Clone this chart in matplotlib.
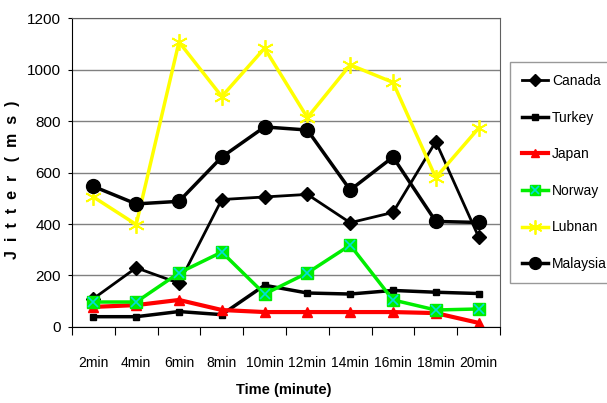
import numpy as np
import matplotlib
matplotlib.use('Agg')
import matplotlib.pyplot as plt

plt.rcParams['font.family'] = ['Liberation Sans', 'DejaVu Sans']

times = ["2min", "4min", "6min", "8min", "10min", "12min", "14min", "16min", "18min", "20min"]
canada = [110, 230, 170, 495, 505, 515, 405, 445, 720, 350]
turkey = [40, 40, 60, 48, 162, 132, 128, 142, 135, 130]
japan = [78, 85, 105, 66, 58, 58, 58, 58, 54, 16]
norway = [97, 97, 210, 291, 128, 210, 318, 105, 66, 70]
lubnan = [505, 398, 1107, 895, 1083, 813, 1018, 950, 580, 772]
malaysia = [546, 478, 488, 660, 777, 765, 532, 660, 410, 406]

fig = plt.figure(figsize=(6.07, 4.03), dpi=100)
ax = fig.add_axes([0.1186, 0.1886, 0.7051, 0.7667])
x = np.arange(len(times))

ax.yaxis.grid(True, color='#808080', linewidth=1)
ax.set_axisbelow(True)

h_can, = ax.plot(x, canada, color='black', lw=2, marker='D', ms=7, label='Canada')
h_tur, = ax.plot(x, turkey, color='black', lw=2.5, marker='s', ms=5, label='Turkey')
h_jap, = ax.plot(x, japan, color='red', lw=3, marker='^', ms=7, label='Japan')
h_nor, = ax.plot(x, norway, color='#00ee00', lw=2.5, marker='s', ms=9, label='Norway')
h_norx, = ax.plot(x, norway, ls='none', marker='x', color='#00dddd', ms=7, mew=1.2)
h_lub, = ax.plot(x, lubnan, color='#ffff00', lw=2.5, marker=(6, 2, 0), ms=12, mew=1.3, label='Lubnan')
h_mal, = ax.plot(x, malaysia, color='black', lw=2.5, marker='o', ms=10, label='Malaysia')

ax.set_xlim(-0.5, len(times) - 0.5)
ax.set_ylim(0, 1200)
ax.set_yticks(range(0, 1201, 200))
ax.set_xticks(np.arange(-0.5, len(times)), labels=[])
ax.set_xticks(x, labels=times, minor=True)
ax.tick_params(axis='x', which='major', length=6, direction='out', color='black')
ax.tick_params(axis='x', which='minor', length=0, pad=21, labelsize=10)
ax.tick_params(axis='y', length=3, labelsize=11, pad=5)

for s in ['top', 'right']:
    ax.spines[s].set_color('#606060')
for s in ['left', 'bottom']:
    ax.spines[s].set_color('black')

ax.set_xlabel('Time (minute)', fontsize=10.5, fontweight='bold')
ax.xaxis.set_label_coords(0.495, -0.18)
ax.set_ylabel('J  i  t  t  e  r   (  m  s  )', fontsize=11.5, fontweight='bold')
ax.yaxis.set_label_coords(-0.122, 0.476)

leg = fig.legend([h_can, h_tur, h_jap, (h_nor, h_norx), h_lub, h_mal],
                 ['Canada', 'Turkey', 'Japan', 'Norway', 'Lubnan', 'Malaysia'],
                 loc='upper left', bbox_to_anchor=(0.840, 0.846),
                 bbox_transform=fig.transFigure, fontsize=10, frameon=True,
                 fancybox=False, edgecolor='#808080', handlelength=1.9,
                 labelspacing=1.63, borderpad=0.85, handletextpad=0.3,
                 borderaxespad=0, markerscale=0.85)
leg.get_frame().set_linewidth(1)

fig.savefig('out.png', dpi=100)
